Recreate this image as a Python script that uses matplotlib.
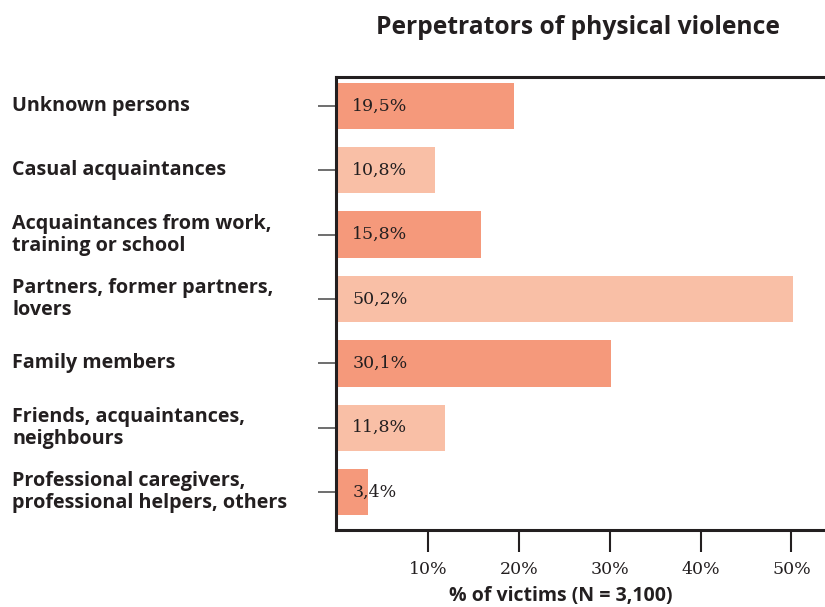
import matplotlib
matplotlib.use("Agg")
import matplotlib.pyplot as plt
import matplotlib.transforms as mtransforms

categories = [
    "Unknown persons",
    "Casual acquaintances",
    "Acquaintances from work,\ntraining or school",
    "Partners, former partners,\nlovers",
    "Family members",
    "Friends, acquaintances,\nneighbours",
    "Professional caregivers,\nprofessional helpers, others",
]
values = [19.5, 10.8, 15.8, 50.2, 30.1, 11.8, 3.4]
value_labels = ["19,5%", "10,8%", "15,8%", "50,2%", "30,1%", "11,8%", "3,4%"]
tick_vals = [10, 20, 30, 40, 50]
tick_labels = ["10%", "20%", "30%", "40%", "50%"]

dark = "#F5997B"
light = "#F9BFA6"
ink = "#231F20"
sans = ["Open Sans", "DejaVu Sans"]
serif = ["DejaVu Serif"]

fig = plt.figure(figsize=(8.25, 6.07), dpi=100)
ax = fig.add_axes([336 / 825, 1 - 530 / 607, 1 - 336 / 825, (530 - 77) / 607])

ypos = list(range(len(values)))
colors = [dark if i % 2 == 0 else light for i in ypos]
ax.barh(ypos, values, height=0.72, color=colors, left=0)

ax.set_xlim(-0.15, 53.7)
ax.set_ylim(6.59, -0.45)

for y, lab in zip(ypos, value_labels):
    ax.text(1.65, y, lab, ha="left", va="center", fontsize=12.5,
            family=serif, color=ink)

# category labels at the figure's left edge
trans = mtransforms.blended_transform_factory(fig.transFigure, ax.transData)
for y, cat in zip(ypos, categories):
    ax.text(12 / 825, y, cat, transform=trans, ha="left", va="center",
            fontsize=14.2, fontweight="bold", family=sans, color=ink,
            linespacing=1.15)

ax.set_yticks(ypos)
ax.set_yticklabels([])
ax.tick_params(axis="y", length=13, width=1.2, color="#555555", direction="out")

ax.set_xticks(tick_vals)
ax.set_xticklabels(tick_labels, family=serif, fontsize=12.5, color=ink)
ax.tick_params(axis="x", length=16, width=1.5, color=ink, direction="out", pad=6)

for s in ["left", "top", "bottom"]:
    ax.spines[s].set_linewidth(2.2)
    ax.spines[s].set_color(ink)
ax.spines["right"].set_visible(False)

fig.text(578 / 825, 1 - 28 / 607, "Perpetrators of physical violence",
         ha="center", va="center", fontsize=17.7, fontweight="bold",
         family=sans, color=ink)
fig.text(561 / 825, 1 - 596 / 607, "% of victims (N = 3,100)",
         ha="center", va="center", fontsize=14, fontweight="bold",
         family=sans, color=ink)

fig.savefig("out.png", dpi=100)
